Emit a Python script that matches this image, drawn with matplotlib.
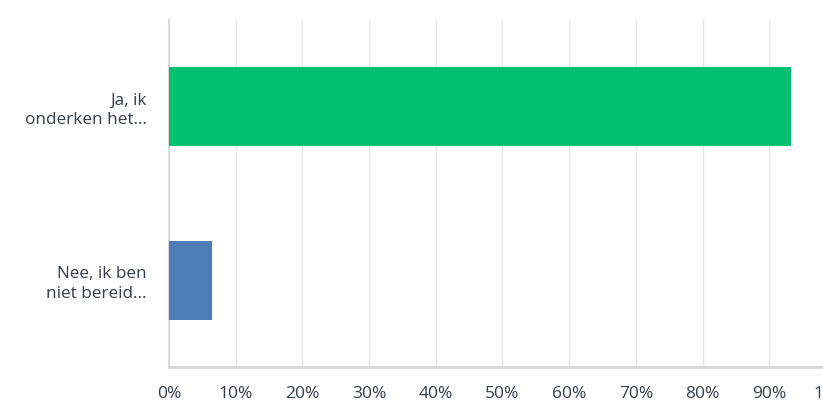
import matplotlib
matplotlib.use('Agg')
import matplotlib.pyplot as plt
import numpy as np

# DATA
categories = ['Ja, ik\nonderken het...', 'Nee, ik ben\nniet bereid...']
percentages = [93.2, 6.4]
bar_colors = ['#00bf6f', '#507cb6']
xticks = [0, 10, 20, 30, 40, 50, 60, 70, 80, 90, 100]
xtick_labels = [str(t) + '%' for t in xticks]

plt.rcParams['font.family'] = ['Open Sans', 'DejaVu Sans']
text_color = '#333e48'

# PLOTTING
fig = plt.figure(figsize=(8.23, 4.13), dpi=100)
# axes run past the right edge, so the "100%" label gets clipped like the original
ax = fig.add_axes([169 / 823, 46 / 413, 667 / 823, 347 / 413])

y_pos = np.arange(len(categories))
ax.barh(y_pos, percentages, height=0.455, color=bar_colors, zorder=3)

ax.set_xlim(0, 100)
ax.set_ylim(1.5, -0.5)
ax.set_xticks(xticks)
ax.set_xticklabels(xtick_labels, fontsize=12.5, color=text_color)
ax.set_yticks(y_pos)
ax.set_yticklabels(categories, fontsize=12.3, color=text_color, linespacing=1.3)
ax.tick_params(axis='x', length=0, pad=14)
ax.tick_params(axis='y', length=0, pad=16)

ax.grid(axis='x', color='#e6e6e6', linewidth=1, zorder=0)
for side in ['top', 'right']:
	ax.spines[side].set_visible(False)
ax.spines['left'].set_color('#d9d9d9')
ax.spines['left'].set_linewidth(1.5)
ax.spines['bottom'].set_color('#d5d5d5')
ax.spines['bottom'].set_linewidth(2)

plt.savefig('out.png', dpi=100)
